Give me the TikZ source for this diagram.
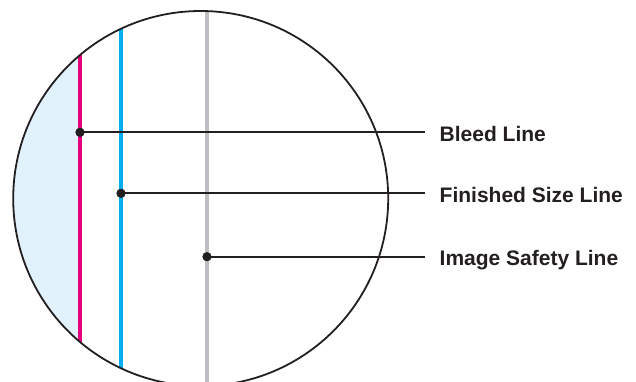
\documentclass[tikz,border=0pt]{standalone}
\usepackage{fontspec}
\setmainfont{Liberation Sans}
\definecolor{bleedmag}{HTML}{E6007E}
\definecolor{trimcyan}{HTML}{00AEEF}
\definecolor{safegray}{HTML}{BFBEC3}
\definecolor{bleedfill}{HTML}{E1F2FC}
\definecolor{inkline}{HTML}{231F20}
\tikzset{
  dotmark/.style={circle, fill=inkline, inner sep=0pt, minimum size=9pt},
  leader/.style={draw=inkline, line width=1.7pt},
  labeltext/.style={anchor=west, inner xsep=14.5pt, inner ysep=0pt, text height=15pt, text depth=0pt,
    font=\fontsize{21}{24}\selectfont\bfseries, text=inkline},
  guideline/.style={line width=3.2pt},
}
\begin{document}
\begin{tikzpicture}[x=1pt, y=-1pt]
\useasboundingbox (0,0) rectangle (636,381);
\coordinate (ctr) at (200.7,198.5);
% bleed fill and guide lines clipped to circle
\begin{scope}
  \clip (ctr) circle[radius=187.5pt];
  \fill[bleedfill] (0,0) rectangle (80,400);
  \draw[guideline, draw=bleedmag] (80,0) -- (80,400);
  \draw[guideline, draw=trimcyan] (121,0) -- (121,400);
  \draw[guideline, draw=safegray] (207,0) -- (207,400);
\end{scope}
\draw[line width=1.8pt, draw=inkline] (ctr) circle[radius=187.5pt];
% dots
\node[dotmark] (bleeddot) at (80,132.3) {};
\node[dotmark] (trimdot) at (121,193.3) {};
\node[dotmark] (safedot) at (207,256.7) {};
% labels
\node[labeltext] (bleedlbl) at (425,133.8) {Bleed Line};
\node[labeltext] (trimlbl) at (425,194.8) {Finished Size Line};
\node[labeltext] (safelbl) at (425,258.2) {Image Safety Line};
% leaders
\draw[leader] (bleeddot.center) -- (bleeddot.center -| bleedlbl.west);
\draw[leader] (trimdot.center) -- (trimdot.center -| trimlbl.west);
\draw[leader] (safedot.center) -- (safedot.center -| safelbl.west);
\node[dotmark] at (bleeddot) {};
\node[dotmark] at (trimdot) {};
\node[dotmark] at (safedot) {};
\end{tikzpicture}
\end{document}
